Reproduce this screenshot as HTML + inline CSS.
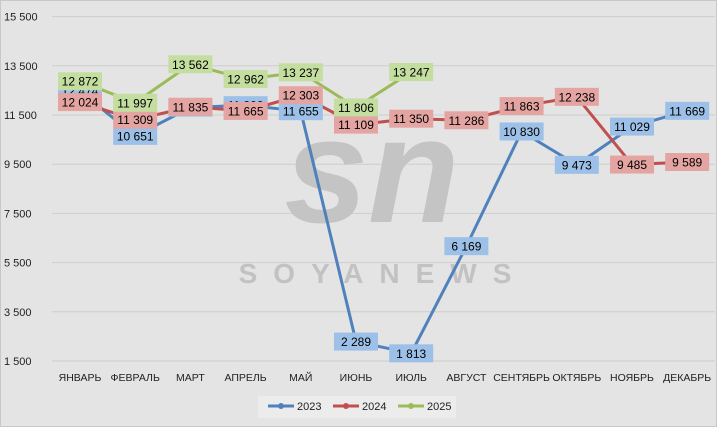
<!DOCTYPE html>
<html><head><meta charset="utf-8"><style>
body{margin:0;background:#fff}
svg{display:block;font-family:"Liberation Sans",sans-serif}
</style></head><body>
<svg id="chart" width="717" height="427" viewBox="0 0 717 427" xmlns="http://www.w3.org/2000/svg">
<rect x="0.5" y="0.5" width="716" height="426" fill="#e4e4e4" stroke="#c8c8c8"/>
<g id="grid"></g>
<g>
<text x="372" y="222" font-size="150" font-style="italic" font-weight="bold" fill="#c4c4c4" text-anchor="middle">sn</text>
<text x="383" y="283" font-size="28" font-weight="bold" fill="#c2c2c2" text-anchor="middle" letter-spacing="16">SOYANEWS</text>
</g>
<g id="axes"></g>
<g id="lines"></g>
<g id="labels"></g>
<g>
<rect x="258" y="396" width="198" height="22" fill="#ececec"/>
<g><line x1="268" y1="406" x2="294" y2="406" stroke="#4f81bd" stroke-width="3"/><circle cx="281" cy="406" r="3" fill="#4f81bd"/><text x="297" y="410" font-size="11" fill="#222">2023</text></g>
<g><line x1="333" y1="406" x2="359" y2="406" stroke="#c0504d" stroke-width="3"/><circle cx="346" cy="406" r="3" fill="#c0504d"/><text x="362" y="410" font-size="11" fill="#222">2024</text></g>
<g><line x1="398" y1="406" x2="424" y2="406" stroke="#9bbb59" stroke-width="3"/><circle cx="411" cy="406" r="3" fill="#9bbb59"/><text x="427" y="410" font-size="11" fill="#222">2025</text></g>
</g>
</svg>
<script>
const categories=["ЯНВАРЬ","ФЕВРАЛЬ","МАРТ","АПРЕЛЬ","МАЙ","ИЮНЬ","ИЮЛЬ","АВГУСТ","СЕНТЯБРЬ","ОКТЯБРЬ","НОЯБРЬ","ДЕКАБРЬ"];
const s2023=[12474,10651,11800,11900,11655,2289,1813,6169,10830,9473,11029,11669];
const s2024=[12024,11309,11835,11665,12303,11109,11350,11286,11863,12238,9485,9589];
const s2025=[12872,11997,13562,12962,13237,11806,13247];
const yTicks=[1500,3500,5500,7500,9500,11500,13500,15500];
const NS="http://www.w3.org/2000/svg";
function x(i){return 80+i*55.2;}
function y(v){return 361-(v-1500)/2000*49.2;}
function mk(t,a,p){const e=document.createElementNS(NS,t);for(const k in a)e.setAttribute(k,a[k]);p.appendChild(e);return e;}
function fmt(v){return String(v).replace(/\B(?=(\d{3})+(?!\d))/g," ");}
const grid=document.getElementById('grid'),axes=document.getElementById('axes'),lines=document.getElementById('lines'),labels=document.getElementById('labels');
yTicks.forEach(t=>{
 const l=mk('line',{x1:52,x2:715,y1:y(t),y2:y(t),stroke:'#cdcdcd','stroke-width':1},grid);
 
 
 const tx=mk('text',{x:4,y:y(t)+4,'font-size':11,fill:'#222'},axes);tx.textContent=fmt(t);
 
 
});
categories.forEach((c,i)=>{
 const tx=mk('text',{x:x(i),y:381,'font-size':10.5,fill:'#222','text-anchor':'middle'},axes);tx.textContent=c;
 
 
});
const series=[[s2023,'#4f81bd','#9dc0e8','2023'],[s2024,'#c0504d','#e4a4a2','2024'],[s2025,'#9bbb59','#c4dea0','2025']];
series.forEach(([d,c,lc,n])=>{
 const pl=mk('polyline',{points:d.map((v,i)=>x(i)+','+y(v)).join(' '),fill:'none',stroke:c,'stroke-width':3,'stroke-linejoin':'round'},lines);
 
 
 d.forEach((v,i)=>{
  const p=mk('circle',{cx:x(i),cy:y(v),r:6,fill:c},lines);
  
  
 });
});
series.forEach(([d,c,lc,n])=>{
 d.forEach((v,i)=>{
  const g=mk('g',{},labels);
  
  
  mk('rect',{x:x(i)-22,y:y(v)-9,width:44,height:18,fill:lc},g);
  const t=mk('text',{x:x(i),y:y(v)+4.5,'font-size':12,fill:'#000','text-anchor':'middle'},g);t.textContent=fmt(v);
 });
});
</script>
</body></html>
